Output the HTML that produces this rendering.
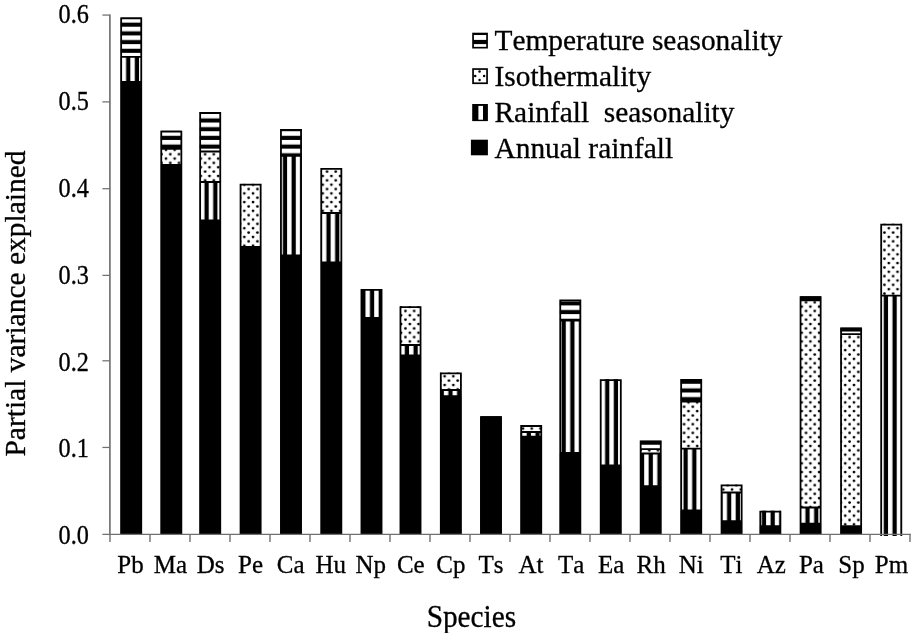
<!DOCTYPE html>
<html lang="en">
<head>
<meta charset="utf-8">
<title>Partial variance explained by species</title>
<style>
html,body{margin:0;padding:0;background:#fff;}
body{width:913px;height:633px;overflow:hidden;}
svg{display:block;}
text{font-family:"Liberation Serif","Times New Roman",serif;fill:#000;font-kerning:none;stroke:#000;stroke-width:0.3px;}
.tick{font-size:24px;}
.xl{font-size:25px;}
.ttl{font-size:29.3px;}
.leg{font-size:29.4px;}
</style>
</head>
<body>
<svg width="913" height="633" viewBox="0 0 913 633">
<defs>
<pattern id="ph" patternUnits="userSpaceOnUse" x="0" y="0.59" width="8.709" height="8.709">
<rect x="0" y="0" width="8.709" height="8.709" fill="#000"/>
<rect x="0" y="0" width="8.709" height="4.6" fill="#fff"/>
</pattern>
<pattern id="pv" patternUnits="userSpaceOnUse" x="8.37" y="0" width="8.709" height="8.709">
<rect x="0" y="0" width="8.709" height="8.709" fill="#000"/>
<rect x="0.05" y="0" width="4.45" height="8.709" fill="#fff"/>
</pattern>
<pattern id="pd" patternUnits="userSpaceOnUse" x="-1.52" y="-0.2" width="8.709" height="8.709">
<rect x="0" y="0" width="8.709" height="8.709" fill="#fff"/>
<circle cx="2" cy="2" r="1.38" fill="#000"/>
<circle cx="6.354" cy="6.354" r="1.38" fill="#000"/>
</pattern>
</defs>
<rect x="0" y="0" width="913" height="633" fill="#fff"/>

<rect x="120.75" y="17.50" width="20.90" height="39.30" fill="url(#ph)"/>
<rect x="120.75" y="56.80" width="20.90" height="25.00" fill="url(#pv)"/>
<rect x="120.75" y="81.80" width="20.90" height="452.20" fill="#000"/>
<path d="M121.15 534.00 V18.40 H141.25 V534.00 M121.15 56.80 H141.25 M121.15 81.80 H141.25" fill="none" stroke="#000" stroke-width="1.8" stroke-linejoin="miter"/>
<rect x="160.85" y="130.70" width="20.90" height="18.20" fill="url(#ph)"/>
<rect x="160.85" y="148.90" width="20.90" height="16.10" fill="url(#pd)"/>
<rect x="160.85" y="165.00" width="20.90" height="369.00" fill="#000"/>
<path d="M161.25 534.00 V131.60 H181.35 V534.00 M161.25 148.90 H181.35 M161.25 165.00 H181.35" fill="none" stroke="#000" stroke-width="1.8" stroke-linejoin="miter"/>
<rect x="199.75" y="112.10" width="20.90" height="39.40" fill="url(#ph)"/>
<rect x="199.75" y="151.50" width="20.90" height="30.50" fill="url(#pd)"/>
<rect x="199.75" y="182.00" width="20.90" height="38.50" fill="url(#pv)"/>
<rect x="199.75" y="220.50" width="20.90" height="313.50" fill="#000"/>
<path d="M200.15 534.00 V113.00 H220.25 V534.00 M200.15 151.50 H220.25 M200.15 182.00 H220.25 M200.15 220.50 H220.25" fill="none" stroke="#000" stroke-width="1.8" stroke-linejoin="miter"/>
<rect x="240.15" y="183.70" width="20.90" height="63.30" fill="url(#pd)"/>
<rect x="240.15" y="247.00" width="20.90" height="287.00" fill="#000"/>
<path d="M240.55 534.00 V184.60 H260.65 V534.00 M240.55 247.00 H260.65" fill="none" stroke="#000" stroke-width="1.8" stroke-linejoin="miter"/>
<rect x="280.55" y="129.10" width="20.90" height="26.80" fill="url(#ph)"/>
<rect x="280.55" y="155.90" width="20.90" height="99.60" fill="url(#pv)"/>
<rect x="280.55" y="255.50" width="20.90" height="278.50" fill="#000"/>
<path d="M280.95 534.00 V130.00 H301.05 V534.00 M280.95 155.90 H301.05 M280.95 255.50 H301.05" fill="none" stroke="#000" stroke-width="1.8" stroke-linejoin="miter"/>
<rect x="320.85" y="168.00" width="20.90" height="45.00" fill="url(#pd)"/>
<rect x="320.85" y="213.00" width="20.90" height="49.50" fill="url(#pv)"/>
<rect x="320.85" y="262.50" width="20.90" height="271.50" fill="#000"/>
<path d="M321.25 534.00 V168.90 H341.35 V534.00 M321.25 213.00 H341.35 M321.25 262.50 H341.35" fill="none" stroke="#000" stroke-width="1.8" stroke-linejoin="miter"/>
<rect x="361.05" y="289.00" width="20.90" height="29.00" fill="url(#pv)"/>
<rect x="361.05" y="318.00" width="20.90" height="216.00" fill="#000"/>
<path d="M361.45 534.00 V289.90 H381.55 V534.00 M361.45 318.00 H381.55" fill="none" stroke="#000" stroke-width="1.8" stroke-linejoin="miter"/>
<rect x="400.05" y="306.20" width="20.90" height="38.80" fill="url(#pd)"/>
<rect x="400.05" y="345.00" width="20.90" height="10.50" fill="url(#pv)"/>
<rect x="400.05" y="355.50" width="20.90" height="178.50" fill="#000"/>
<path d="M400.45 534.00 V307.10 H420.55 V534.00 M400.45 345.00 H420.55 M400.45 355.50 H420.55" fill="none" stroke="#000" stroke-width="1.8" stroke-linejoin="miter"/>
<rect x="440.40" y="372.50" width="20.90" height="17.50" fill="url(#pd)"/>
<rect x="440.40" y="390.00" width="20.90" height="6.20" fill="url(#pv)"/>
<rect x="440.40" y="396.20" width="20.90" height="137.80" fill="#000"/>
<path d="M440.80 534.00 V373.40 H460.90 V534.00 M440.80 390.00 H460.90 M440.80 396.20 H460.90" fill="none" stroke="#000" stroke-width="1.8" stroke-linejoin="miter"/>
<rect x="480.55" y="416.20" width="20.90" height="117.80" fill="#000"/>
<path d="M480.95 534.00 V417.10 H501.05 V534.00" fill="none" stroke="#000" stroke-width="1.8" stroke-linejoin="miter"/>
<rect x="520.75" y="425.10" width="20.90" height="6.90" fill="url(#pd)"/>
<rect x="520.75" y="432.00" width="20.90" height="4.70" fill="url(#pv)"/>
<rect x="520.75" y="436.70" width="20.90" height="97.30" fill="#000"/>
<path d="M521.15 534.00 V426.00 H541.25 V534.00 M521.15 432.00 H541.25 M521.15 436.70 H541.25" fill="none" stroke="#000" stroke-width="1.8" stroke-linejoin="miter"/>
<rect x="559.85" y="299.50" width="20.90" height="21.00" fill="url(#ph)"/>
<rect x="559.85" y="320.50" width="20.90" height="132.50" fill="url(#pv)"/>
<rect x="559.85" y="453.00" width="20.90" height="81.00" fill="#000"/>
<path d="M560.25 534.00 V300.40 H580.35 V534.00 M560.25 320.50 H580.35 M560.25 453.00 H580.35" fill="none" stroke="#000" stroke-width="1.8" stroke-linejoin="miter"/>
<rect x="600.30" y="379.20" width="20.90" height="86.30" fill="url(#pv)"/>
<rect x="600.30" y="465.50" width="20.90" height="68.50" fill="#000"/>
<path d="M600.70 534.00 V380.10 H620.80 V534.00 M600.70 465.50 H620.80" fill="none" stroke="#000" stroke-width="1.8" stroke-linejoin="miter"/>
<rect x="640.25" y="440.40" width="20.90" height="8.70" fill="url(#ph)"/>
<rect x="640.25" y="449.10" width="20.90" height="4.40" fill="url(#pd)"/>
<rect x="640.25" y="453.50" width="20.90" height="32.70" fill="url(#pv)"/>
<rect x="640.25" y="486.20" width="20.90" height="47.80" fill="#000"/>
<path d="M640.65 534.00 V441.30 H660.75 V534.00 M640.65 449.10 H660.75 M640.65 453.50 H660.75 M640.65 486.20 H660.75" fill="none" stroke="#000" stroke-width="1.8" stroke-linejoin="miter"/>
<rect x="680.75" y="378.90" width="20.90" height="22.80" fill="url(#ph)"/>
<rect x="680.75" y="401.70" width="20.90" height="47.00" fill="url(#pd)"/>
<rect x="680.75" y="448.70" width="20.90" height="61.80" fill="url(#pv)"/>
<rect x="680.75" y="510.50" width="20.90" height="23.50" fill="#000"/>
<path d="M681.15 534.00 V379.80 H701.25 V534.00 M681.15 401.70 H701.25 M681.15 448.70 H701.25 M681.15 510.50 H701.25" fill="none" stroke="#000" stroke-width="1.8" stroke-linejoin="miter"/>
<rect x="721.15" y="484.50" width="20.90" height="8.00" fill="url(#pd)"/>
<rect x="721.15" y="492.50" width="20.90" height="28.70" fill="url(#pv)"/>
<rect x="721.15" y="521.20" width="20.90" height="12.80" fill="#000"/>
<path d="M721.55 534.00 V485.40 H741.65 V534.00 M721.55 492.50 H741.65 M721.55 521.20 H741.65" fill="none" stroke="#000" stroke-width="1.8" stroke-linejoin="miter"/>
<rect x="759.90" y="510.70" width="20.90" height="15.50" fill="url(#pv)"/>
<rect x="759.90" y="526.20" width="20.90" height="7.80" fill="#000"/>
<path d="M760.30 534.00 V511.60 H780.40 V534.00 M760.30 526.20 H780.40" fill="none" stroke="#000" stroke-width="1.8" stroke-linejoin="miter"/>
<rect x="800.15" y="296.30" width="20.90" height="4.00" fill="#000"/>
<rect x="800.15" y="300.30" width="20.90" height="207.20" fill="url(#pd)"/>
<rect x="800.15" y="507.50" width="20.90" height="16.20" fill="url(#pv)"/>
<rect x="800.15" y="523.70" width="20.90" height="10.30" fill="#000"/>
<path d="M800.55 534.00 V297.20 H820.65 V534.00 M800.55 300.30 H820.65 M800.55 507.50 H820.65 M800.55 523.70 H820.65" fill="none" stroke="#000" stroke-width="1.8" stroke-linejoin="miter"/>
<rect x="840.65" y="327.40" width="20.90" height="6.80" fill="url(#ph)"/>
<rect x="840.65" y="334.20" width="20.90" height="192.00" fill="url(#pd)"/>
<rect x="840.65" y="526.20" width="20.90" height="7.80" fill="#000"/>
<path d="M841.05 534.00 V328.30 H861.15 V534.00 M841.05 334.20 H861.15 M841.05 526.20 H861.15" fill="none" stroke="#000" stroke-width="1.8" stroke-linejoin="miter"/>
<rect x="880.80" y="223.70" width="20.90" height="71.90" fill="url(#pd)"/>
<rect x="880.80" y="295.60" width="20.90" height="240.40" fill="url(#pv)"/>
<path d="M881.20 536.00 V224.60 H901.30 V536.00 M881.20 295.60 H901.30" fill="none" stroke="#000" stroke-width="1.8" stroke-linejoin="miter"/>
<g stroke="#707070" fill="none">
<path d="M109.9 14.4 V534.9" stroke-width="1.8" stroke="#7a7a7a"/>
<path d="M102.4 534.35 H910.8" stroke-width="1.25"/>
<path d="M102.4 15.07 H110" stroke-width="1.25"/>
<path d="M102.4 101.90 H110" stroke-width="1.25"/>
<path d="M102.4 188.70 H110" stroke-width="1.25"/>
<path d="M102.4 275.40 H110" stroke-width="1.25"/>
<path d="M102.4 360.80 H110" stroke-width="1.25"/>
<path d="M102.4 447.45 H110" stroke-width="1.25"/>
<path d="M110.0 534 V541.9" stroke-width="1.4"/>
<path d="M150.0 534 V541.9" stroke-width="1.4"/>
<path d="M190.0 534 V541.9" stroke-width="1.4"/>
<path d="M230.0 534 V541.9" stroke-width="1.4"/>
<path d="M270.0 534 V541.9" stroke-width="1.4"/>
<path d="M310.0 534 V541.9" stroke-width="1.4"/>
<path d="M350.0 534 V541.9" stroke-width="1.4"/>
<path d="M390.0 534 V541.9" stroke-width="1.4"/>
<path d="M430.0 534 V541.9" stroke-width="1.4"/>
<path d="M470.0 534 V541.9" stroke-width="1.4"/>
<path d="M510.0 534 V541.9" stroke-width="1.4"/>
<path d="M550.0 534 V541.9" stroke-width="1.4"/>
<path d="M590.0 534 V541.9" stroke-width="1.4"/>
<path d="M630.0 534 V541.9" stroke-width="1.4"/>
<path d="M670.0 534 V541.9" stroke-width="1.4"/>
<path d="M710.0 534 V541.9" stroke-width="1.4"/>
<path d="M750.0 534 V541.9" stroke-width="1.4"/>
<path d="M790.0 534 V541.9" stroke-width="1.4"/>
<path d="M830.0 534 V541.9" stroke-width="1.4"/>
<path d="M870.0 534 V541.9" stroke-width="1.4"/>
<path d="M910.0 534 V541.9" stroke-width="1.4"/>
</g>
<text class="tick" transform="translate(88.9 23.15) scale(1.01 1.13)" text-anchor="end">0.6</text>
<text class="tick" transform="translate(88.9 110.00) scale(1.01 1.13)" text-anchor="end">0.5</text>
<text class="tick" transform="translate(88.9 196.85) scale(1.01 1.13)" text-anchor="end">0.4</text>
<text class="tick" transform="translate(88.9 283.70) scale(1.01 1.13)" text-anchor="end">0.3</text>
<text class="tick" transform="translate(88.9 370.55) scale(1.01 1.13)" text-anchor="end">0.2</text>
<text class="tick" transform="translate(88.9 457.40) scale(1.01 1.13)" text-anchor="end">0.1</text>
<text class="tick" transform="translate(88.9 544.25) scale(1.01 1.13)" text-anchor="end">0.0</text>
<text class="xl" transform="translate(130.45 572.6) scale(1 0.97)" text-anchor="middle">Pb</text>
<text class="xl" transform="translate(170.50 572.6) scale(1 0.97)" text-anchor="middle">Ma</text>
<text class="xl" transform="translate(210.56 572.6) scale(1 0.97)" text-anchor="middle">Ds</text>
<text class="xl" transform="translate(250.61 572.6) scale(1 0.97)" text-anchor="middle">Pe</text>
<text class="xl" transform="translate(290.67 572.6) scale(1 0.97)" text-anchor="middle">Ca</text>
<text class="xl" transform="translate(330.73 572.6) scale(1 0.97)" text-anchor="middle">Hu</text>
<text class="xl" transform="translate(370.78 572.6) scale(1 0.97)" text-anchor="middle">Np</text>
<text class="xl" transform="translate(410.83 572.6) scale(1 0.97)" text-anchor="middle">Ce</text>
<text class="xl" transform="translate(450.89 572.6) scale(1 0.97)" text-anchor="middle">Cp</text>
<text class="xl" transform="translate(490.94 572.6) scale(1 0.97)" text-anchor="middle">Ts</text>
<text class="xl" transform="translate(531.00 572.6) scale(1 0.97)" text-anchor="middle">At</text>
<text class="xl" transform="translate(571.06 572.6) scale(1 0.97)" text-anchor="middle">Ta</text>
<text class="xl" transform="translate(611.11 572.6) scale(1 0.97)" text-anchor="middle">Ea</text>
<text class="xl" transform="translate(651.16 572.6) scale(1 0.97)" text-anchor="middle">Rh</text>
<text class="xl" transform="translate(691.22 572.6) scale(1 0.97)" text-anchor="middle">Ni</text>
<text class="xl" transform="translate(731.28 572.6) scale(1 0.97)" text-anchor="middle">Ti</text>
<text class="xl" transform="translate(771.33 572.6) scale(1 0.97)" text-anchor="middle">Az</text>
<text class="xl" transform="translate(811.38 572.6) scale(1 0.97)" text-anchor="middle">Pa</text>
<text class="xl" transform="translate(851.44 572.6) scale(1 0.97)" text-anchor="middle">Sp</text>
<text class="xl" transform="translate(891.49 572.6) scale(1 0.97)" text-anchor="middle">Pm</text>
<text class="ttl" transform="translate(471.4 626.9) scale(1 1.09)" text-anchor="middle">Species</text>
<text class="ttl" transform="translate(25.2 303.5) rotate(-90) scale(1 1.025)" text-anchor="middle" style="font-size:29.5px">Partial variance explained</text>
<g>
<rect x="472.2" y="32.7" width="15.7" height="15.8" fill="#000"/>
<rect x="473.9" y="35.0" width="12.3" height="4.9" fill="#fff"/>
<rect x="473.9" y="44.1" width="12.3" height="2.75" fill="#fff"/>
<rect x="472.2" y="68.2" width="15.7" height="15.9" fill="#000"/>
<rect x="473.9" y="69.9" width="12.3" height="12.5" fill="#fff"/>
<circle cx="479.55" cy="71.60" r="1.25" fill="#000"/>
<circle cx="475.20" cy="75.90" r="1.25" fill="#000"/>
<circle cx="484.10" cy="75.90" r="1.25" fill="#000"/>
<circle cx="479.55" cy="80.10" r="1.25" fill="#000"/>
<rect x="472.2" y="104.0" width="15.7" height="17.1" fill="#000"/>
<rect x="478.4" y="105.9" width="4.6" height="13.8" fill="#fff"/>
<rect x="470.9" y="139.7" width="17.0" height="15.6" fill="#000"/>
</g>
<text class="leg" transform="translate(494.5 49.8) scale(1 1.03)" xml:space="preserve">Temperature seasonality</text>
<text class="leg" transform="translate(494.5 85.8) scale(1 1.03)" xml:space="preserve">Isothermality</text>
<text class="leg" transform="translate(494.5 122.0) scale(1 1.03)" xml:space="preserve">Rainfall  seasonality</text>
<text class="leg" transform="translate(494.5 158.2) scale(1 1.03)" xml:space="preserve">Annual rainfall</text>
</svg>
</body>
</html>
